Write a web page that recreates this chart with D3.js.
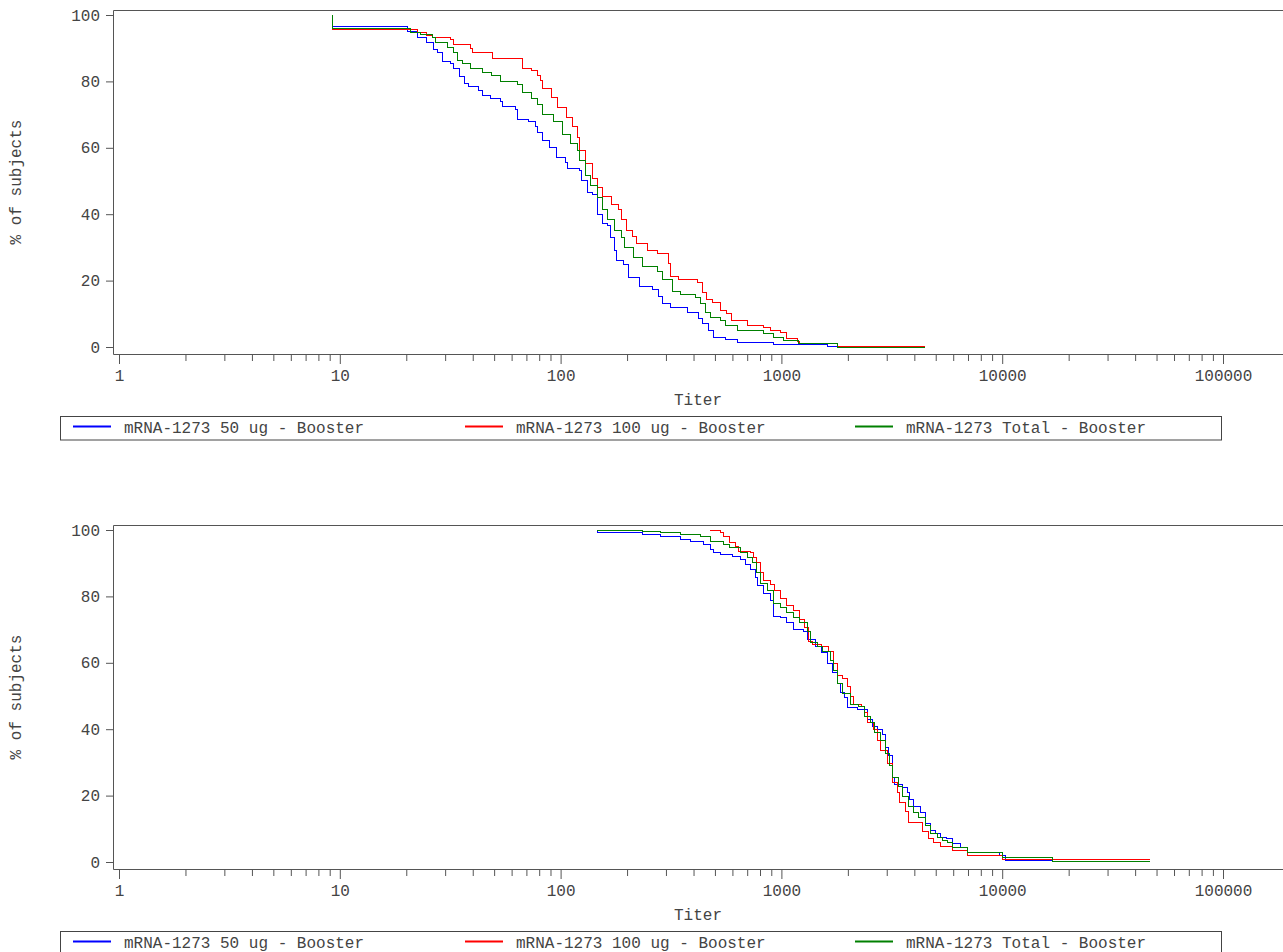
<!DOCTYPE html>
<html>
<head>
<meta charset="utf-8">
<script src="https://cdn.jsdelivr.net/npm/d3@7"></script>
<style>
    body { margin: 0; background: #fff; }
    text { font-family: "Liberation Mono", "Courier New", monospace; font-size: 16px; fill: #444; }
</style>
</head>
<body>
<div id="graph-container"></div>
<script>
const WIDTH = 1283,
    HEIGHT = 952;

// [titer, % of subjects with titer >= value], one pair per step
const top50 = [[9.3, 96.4], [20.2, 94.9], [22.6, 93.1], [24.8, 91.6], [26.7, 89.5], [27.6, 88.6], [29.3, 86.1], [31.6, 85.5],
    [32.6, 84.0], [35.0, 81.6], [36.9, 79.5], [38.1, 78.6], [42.3, 77.4], [44.1, 75.9], [47.9, 75.0], [53.2, 73.8],
    [54.3, 72.3], [62.2, 71.4], [64.1, 68.4], [71.2, 67.8], [76.6, 66.3], [78.2, 64.5], [83.2, 62.3], [89.5, 60.2],
    [96.3, 57.2], [104.7, 55.7], [108.0, 53.9], [122.4, 53.3], [125.0, 50.3], [131.7, 46.4], [138.8, 45.8], [146.2, 43.4],
    [147.7, 39.8], [155.6, 37.3], [163.9, 36.7], [167.4, 33.1], [176.3, 29.2], [180.0, 26.2], [191.7, 24.7], [202.0, 20.8],
    [228.8, 18.1], [259.4, 17.2], [276.2, 15.1], [290.9, 13.0], [313.0, 12.0], [373.7, 10.5], [419.3, 8.7], [437.0, 7.2],
    [465.2, 5.1], [490.2, 3.0], [555.4, 2.4], [629.5, 1.5], [916.2, 0.9], [1609, 0.3], [1786, 0.3]];

const top100 = [[9.3, 95.5], [22.4, 94.6], [24.8, 93.7], [26.4, 93.1], [31.6, 92.5], [32.6, 91.0], [38.9, 89.8], [39.7, 88.6],
    [49.4, 87.0], [66.9, 85.5], [67.5, 84.0], [74.2, 83.4], [78.2, 81.9], [80.7, 80.4], [83.2, 78.0], [91.4, 75.3],
    [97.3, 72.0], [106.9, 69.0], [113.8, 66.3], [118.7, 63.0], [122.4, 59.3], [129.0, 55.4], [138.8, 50.9], [146.2, 47.9],
    [155.6, 45.2], [170.9, 42.8], [182.0, 41.3], [189.7, 38.3], [199.8, 35.2], [210.6, 33.4], [221.8, 31.3], [246.3, 29.2],
    [273.3, 28.3], [306.5, 25.3], [313.0, 21.1], [340.2, 20.2], [414.9, 19.3], [437.0, 16.3], [460.3, 14.2], [485.1, 13.3],
    [527.2, 11.1], [567.0, 10.2], [597.3, 8.1], [698.7, 6.6], [825.4, 6.0], [888.0, 5.1], [985.6, 4.5], [1060, 2.7],
    [1177, 1.8], [1214, 1.2], [1786, 0.3], [4471, 0.3]];

const topTotal = [[9.3, 95.8], [20.8, 94.6], [23.1, 94.0], [26.2, 93.1], [27.0, 91.6], [30.6, 90.1], [32.6, 88.6], [34.0, 86.4],
    [35.8, 85.5], [38.9, 84.0], [44.1, 82.8], [48.9, 81.9], [53.2, 80.1], [63.5, 79.2], [66.9, 76.8], [74.2, 75.0],
    [78.2, 72.9], [83.2, 69.9], [92.4, 67.8], [102.5, 63.9], [110.3, 61.4], [118.7, 59.3], [122.4, 56.3], [129.0, 51.8],
    [135.9, 48.5], [146.2, 44.9], [155.6, 41.3], [163.9, 38.3], [176.3, 35.2], [189.7, 33.1], [195.7, 30.1], [212.8, 27.1],
    [233.7, 24.1], [273.3, 22.6], [290.9, 20.2], [319.6, 16.6], [347.4, 15.7], [406.3, 14.8], [428.1, 13.0], [450.9, 10.5],
    [475.0, 9.0], [527.2, 8.1], [555.4, 6.6], [629.5, 5.1], [825.4, 4.2], [916.2, 3.0], [1017, 2.1], [1189, 1.2],
    [1786, 0.0], [4471, 0.0]];

const bottom50 = [[147.7, 99.1], [233.7, 98.5], [282.0, 97.9], [347.4, 97.0], [385.6, 96.4], [446, 95.5], [475.0, 94.0], [490.2, 93.1],
    [527.2, 92.5], [603.6, 91.9], [649.4, 91.0], [684.2, 89.5], [720.8, 88.0], [759.4, 85.8], [783.4, 83.4], [825.4, 81.0],
    [888.0, 78.9], [916.2, 73.8], [985.6, 73.5], [1060, 72.0], [1129, 69.9], [1253, 69.3], [1306, 66.9], [1420, 64.8],
    [1527, 63.0], [1609, 59.9], [1695, 57.2], [1786, 53.9], [1843, 51.2], [1941, 49.4], [2002, 46.4], [2200, 45.8],
    [2442, 42.8], [2573, 40.7], [2710, 39.8], [2856, 38.3], [2946, 34.6], [3040, 32.2], [3169, 28.6], [3202, 25.6],
    [3269, 23.2], [3554, 22.3], [3706, 20.8], [3823, 18.7], [3945, 16.6], [4244, 14.8], [4471, 11.7], [4710, 9.6],
    [4962, 8.7], [5228, 7.5], [5623, 7.2], [5986, 5.7], [6440, 4.5], [7000, 3.0], [9772, 2.1], [10300, 0.6], [16980, 0.6]];

const bottom100 = [[475.0, 99.7], [527.2, 99.1], [543.9, 97.9], [584.9, 96.1], [616.5, 94.9], [636.1, 93.4], [720.8, 93.1], [743.7, 91.6],
    [775.3, 90.1], [800.0, 87.3], [825.4, 84.9], [888.0, 83.7], [935.4, 81.9], [985.6, 79.5], [1060, 77.4], [1129, 75.9],
    [1214, 72.9], [1279, 70.5], [1320, 66.3], [1390, 65.4], [1527, 64.8], [1626, 63.3], [1713, 59.9], [1804, 56.3],
    [1901, 55.4], [1982, 53.0], [2045, 49.7], [2110, 47.3], [2317, 46.7], [2391, 44.9], [2467, 41.9], [2600, 39.8],
    [2710, 36.7], [2797, 33.7], [3008, 29.8], [3169, 26.8], [3202, 23.8], [3339, 20.8], [3444, 17.8], [3629, 15.1],
    [3745, 12.0], [4334, 9.3], [4613, 7.2], [4860, 6.0], [5228, 4.8], [5986, 3.6], [6929, 2.1], [10080, 0.9], [46700, 0.9]];

const bottomTotal = [[147.7, 99.7], [233.7, 99.4], [282.0, 99.1], [347.4, 98.5], [428.1, 97.9], [475.0, 96.4], [543.9, 95.5], [584.9, 94.6],
    [649.4, 93.1], [698.7, 91.6], [736.0, 90.1], [775.3, 87.3], [800.0, 84.0], [860.6, 81.9], [916.2, 78.0], [985.6, 76.8],
    [1060, 75.3], [1129, 73.5], [1214, 72.0], [1306, 69.3], [1348, 66.0], [1450, 64.8], [1543, 63.3], [1660, 60.8],
    [1713, 57.8], [1804, 53.9], [1901, 50.9], [2045, 47.3], [2223, 46.7], [2391, 43.7], [2520, 41.9], [2654, 38.9],
    [2797, 36.7], [2946, 32.8], [3103, 29.2], [3202, 25.6], [3374, 22.6], [3554, 19.6], [3745, 16.6], [3945, 14.8],
    [4157, 13.3], [4471, 11.1], [4710, 8.7], [5067, 7.5], [5339, 6.6], [5682, 6.0], [5986, 4.5], [6929, 3.0],
    [10080, 1.5], [16980, 0.3], [46700, 0.3]];

const seriesNames = ["mRNA-1273 50 ug - Booster", "mRNA-1273 100 ug - Booster", "mRNA-1273 Total - Booster"];
const colors = ["#0000ff", "#ff0000", "#008000"];
const xMajorTicks = [1, 10, 100, 1000, 10000, 100000];
const yTicks = [0, 20, 40, 60, 80, 100];

const frame = { left: 113, top: 10, bottom: 354, right: 1283 };
const legendX = [73, 465, 855];

const panels = [
    { offset: 0, series: [top50, top100, topTotal] },
    { offset: 515, series: [bottom50, bottom100, bottomTotal] }
];

const svg = d3.select("#graph-container")
    .append("svg")
    .attr("width", WIDTH)
    .attr("height", HEIGHT);

const escalaX = d3.scaleLog()
    .domain([1, 100000])
    .range([119, 1223]);

const escalaY = d3.scaleLinear()
    .domain([0, 100])
    .range([347, 15]);

// minor ticks at 2..9 inside each decade
const xMinorTicks = xMajorTicks.slice(0, -1)
    .flatMap((d) => d3.range(2, 10).map((k) => k * d));

const stepLine = d3.line()
    .curve(d3.curveStepAfter)
    .x((d) => escalaX(d[0]))
    .y((d) => escalaY(d[1]));

const drawPanel = (panel) => {
    const g = svg.append("g")
        .attr("transform", `translate(0, ${panel.offset})`);

    // curves, everyone starts at 100%
    panel.series.forEach((serie, i) => {
        g.append("path")
            .datum([[serie[0][0], 100], ...serie])
            .attr("fill", "none")
            .attr("stroke", colors[i])
            .attr("stroke-width", 1)
            .attr("shape-rendering", "crispEdges")
            .attr("d", stepLine);
    });

    // frame
    g.append("path")
        .attr("d", `M${frame.right},${frame.top + 0.5}H${frame.left + 0.5}V${frame.bottom + 0.5}H${frame.right}`)
        .attr("fill", "none")
        .attr("stroke", "#555")
        .attr("stroke-width", 1);

    const xAxis = g.append("g")
        .attr("transform", `translate(0, ${frame.bottom})`)
        .attr("color", "#555")
        .call(d3.axisBottom(escalaX)
            .tickValues(xMajorTicks)
            .tickFormat(d3.format("d"))
            .tickSize(10)
            .tickPadding(6));
    xAxis.select(".domain").remove();

    const xMinor = g.append("g")
        .attr("transform", `translate(0, ${frame.bottom})`)
        .attr("color", "#555")
        .call(d3.axisBottom(escalaX)
            .tickValues(xMinorTicks)
            .tickFormat("")
            .tickSize(7));
    xMinor.select(".domain").remove();

    const yAxis = g.append("g")
        .attr("transform", `translate(${frame.left}, 0)`)
        .attr("color", "#555")
        .call(d3.axisLeft(escalaY)
            .tickValues(yTicks)
            .tickSize(7)
            .tickPadding(6));
    yAxis.select(".domain").remove();

    g.append("text")
        .attr("transform", "translate(21, 182) rotate(-90)")
        .attr("text-anchor", "middle")
        .text("% of subjects");

    g.append("text")
        .attr("x", 698)
        .attr("y", 405)
        .attr("text-anchor", "middle")
        .text("Titer");

    // legend
    g.append("rect")
        .attr("x", 60.5)
        .attr("y", 416.5)
        .attr("width", 1161)
        .attr("height", 23.5)
        .attr("fill", "none")
        .attr("stroke", "#444");

    const items = g.selectAll(".legend-item")
        .data(seriesNames)
        .join("g")
        .attr("class", "legend-item")
        .attr("transform", (d, i) => `translate(${legendX[i]}, 0)`);

    items.append("line")
        .attr("x1", 0)
        .attr("x2", 38)
        .attr("y1", 426.5)
        .attr("y2", 426.5)
        .attr("stroke", (d, i) => colors[i])
        .attr("stroke-width", 2);

    items.append("text")
        .attr("x", 51)
        .attr("y", 433)
        .text((d) => d);
};

panels.forEach(drawPanel);
</script>
</body>
</html>
